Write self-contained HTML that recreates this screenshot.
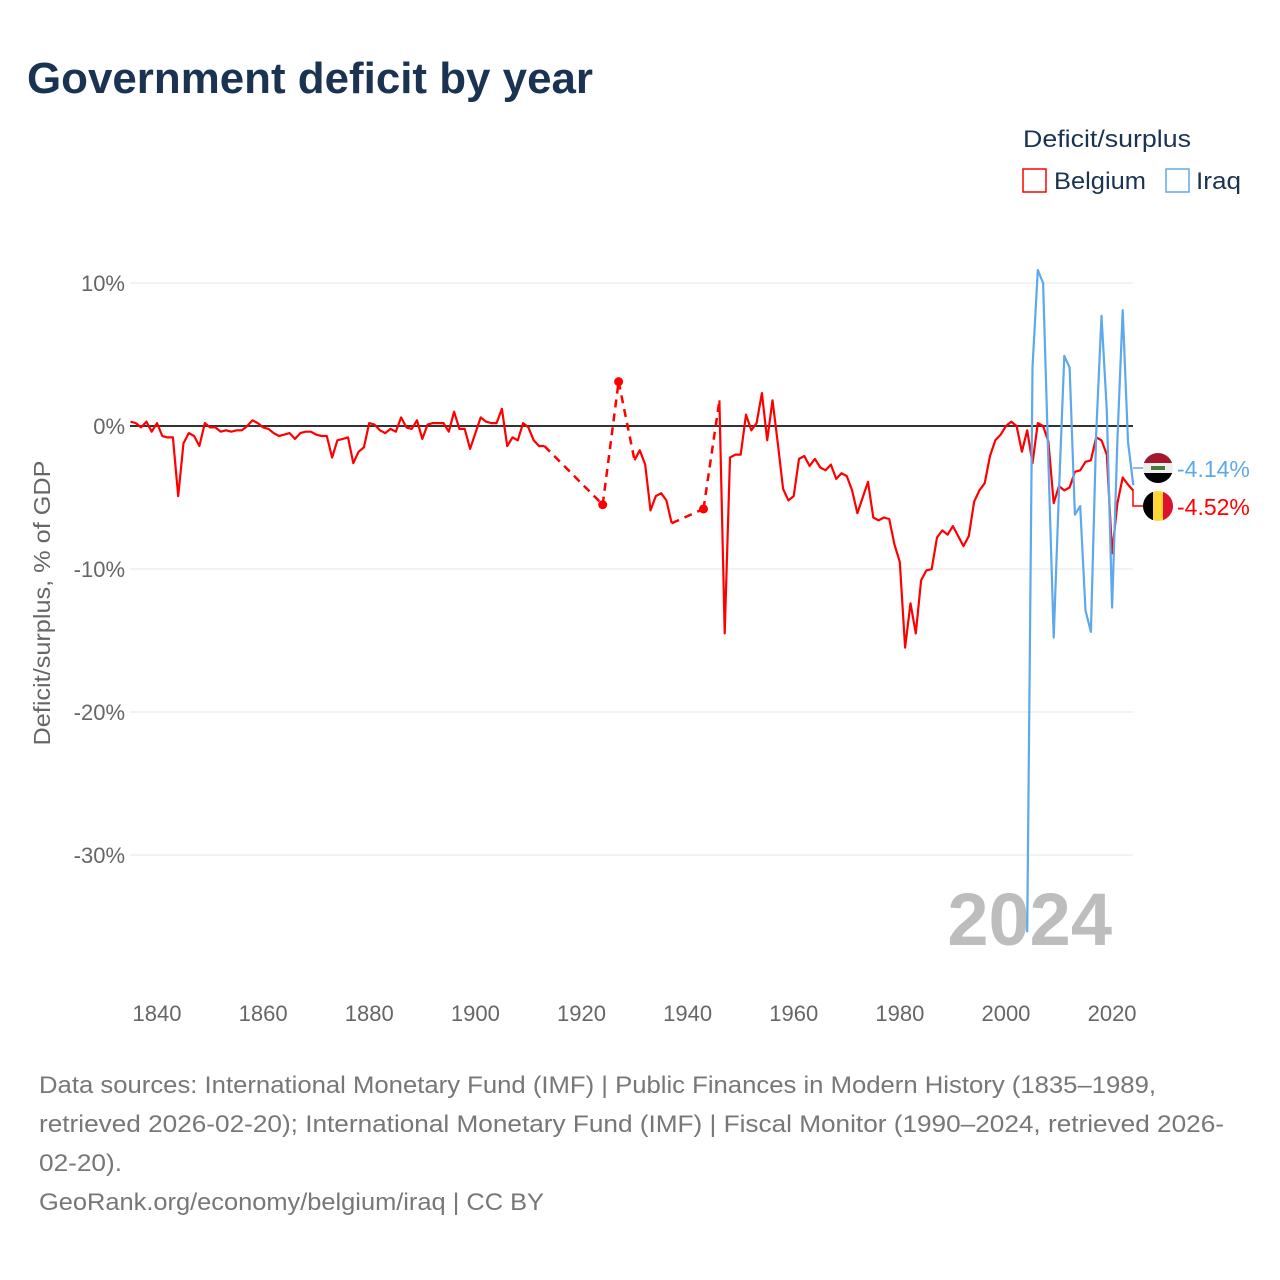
<!DOCTYPE html>
<html><head><meta charset="utf-8"><style>
body{margin:0;background:#fff;}
svg{display:block;font-family:"Liberation Sans",sans-serif;}
</style></head><body>
<svg id="chart" width="1280" height="1280" viewBox="0 0 1280 1280" xmlns="http://www.w3.org/2000/svg">
<text x="27" y="93" font-size="44" font-weight="bold" fill="#1b3352" textLength="566" lengthAdjust="spacingAndGlyphs">Government deficit by year</text>
<g>
<text x="1023" y="147" font-size="24" fill="#1b3352" textLength="168" lengthAdjust="spacingAndGlyphs">Deficit/surplus</text>
<g><rect x="1023" y="169" width="23" height="23" fill="none" stroke="#ff0000" stroke-width="1.5"/><text x="1054" y="189" font-size="24" fill="#1b3352" textLength="92" lengthAdjust="spacingAndGlyphs">Belgium</text></g>
<g><rect x="1166" y="169" width="23" height="23" fill="none" stroke="#5ea8ec" stroke-width="1.5"/><text x="1196" y="189" font-size="24" fill="#1b3352" textLength="45" lengthAdjust="spacingAndGlyphs">Iraq</text></g>
</g>
<text transform="translate(50,603) rotate(-90)" text-anchor="middle" font-size="23" fill="#666" textLength="285" lengthAdjust="spacingAndGlyphs">Deficit/surplus, % of GDP</text>
<g id="grid"></g>
<text x="1112" y="945" text-anchor="end" font-size="74" font-weight="bold" fill="#bdbdbd">2024</text>
<g id="series"></g>
<g id="labels"></g>
<g font-size="24" fill="#777">
<text x="39" y="1093" textLength="1117" lengthAdjust="spacingAndGlyphs">Data sources: International Monetary Fund (IMF) | Public Finances in Modern History (1835–1989,</text>
<text x="39" y="1132" textLength="1185" lengthAdjust="spacingAndGlyphs">retrieved 2026-02-20); International Monetary Fund (IMF) | Fiscal Monitor (1990–2024, retrieved 2026-</text>
<text x="39" y="1171" textLength="83" lengthAdjust="spacingAndGlyphs">02-20).</text>
<text x="39" y="1210" textLength="505" lengthAdjust="spacingAndGlyphs">GeoRank.org/economy/belgium/iraq | CC BY</text>
</g>
</svg>
<script>
const yTicks=[10,0,-10,-20,-30];
const yTickLabels=["10%","0%","-10%","-20%","-30%"];
const xTicks=[1840,1860,1880,1900,1920,1940,1960,1980,2000,2020];
const belgiumYears=[1835,1836,1837,1838,1839,1840,1841,1842,1843,1844,1845,1846,1847,1848,1849,1850,1851,1852,1853,1854,1855,1856,1857,1858,1859,1860,1861,1862,1863,1864,1865,1866,1867,1868,1869,1870,1871,1872,1873,1874,1875,1876,1877,1878,1879,1880,1881,1882,1883,1884,1885,1886,1887,1888,1889,1890,1891,1892,1893,1894,1895,1896,1897,1898,1899,1900,1901,1902,1903,1904,1905,1906,1907,1908,1909,1910,1911,1912,1913,1924,1927,1930,1931,1932,1933,1934,1935,1936,1937,1943,1946,1947,1948,1949,1950,1951,1952,1953,1954,1955,1956,1957,1958,1959,1960,1961,1962,1963,1964,1965,1966,1967,1968,1969,1970,1971,1972,1973,1974,1975,1976,1977,1978,1979,1980,1981,1982,1983,1984,1985,1986,1987,1988,1989,1990,1991,1992,1993,1994,1995,1996,1997,1998,1999,2000,2001,2002,2003,2004,2005,2006,2007,2008,2009,2010,2011,2012,2013,2014,2015,2016,2017,2018,2019,2020,2021,2022,2023,2024];
const belgiumValues=[0.3,0.2,-0.1,0.3,-0.4,0.2,-0.7,-0.8,-0.8,-4.9,-1.2,-0.5,-0.7,-1.4,0.2,-0.1,-0.1,-0.4,-0.3,-0.4,-0.3,-0.3,0,0.4,0.2,-0.1,-0.2,-0.5,-0.7,-0.6,-0.5,-0.9,-0.5,-0.4,-0.4,-0.6,-0.7,-0.7,-2.2,-1.0,-0.9,-0.8,-2.6,-1.8,-1.5,0.2,0.1,-0.3,-0.5,-0.2,-0.4,0.6,-0.1,-0.2,0.4,-0.9,0.1,0.2,0.2,0.2,-0.4,1.0,-0.2,-0.2,-1.6,-0.5,0.6,0.3,0.2,0.2,1.2,-1.4,-0.8,-1.0,0.2,-0.1,-1.0,-1.4,-1.4,-5.5,3.1,-2.4,-1.7,-2.7,-5.9,-4.9,-4.7,-5.2,-6.8,-5.8,1.8,-14.5,-2.2,-2.0,-2.0,0.8,-0.3,0.2,2.3,-1.0,1.8,-1.2,-4.4,-5.2,-4.9,-2.3,-2.1,-2.8,-2.3,-2.9,-3.1,-2.7,-3.7,-3.3,-3.5,-4.5,-6.1,-5.0,-3.9,-6.4,-6.6,-6.4,-6.5,-8.3,-9.5,-15.5,-12.4,-14.5,-10.8,-10.1,-10.0,-7.8,-7.3,-7.6,-7.0,-7.7,-8.4,-7.7,-5.3,-4.5,-4.0,-2.1,-1.0,-0.6,0.0,0.3,0.0,-1.8,-0.3,-2.6,0.2,0.0,-1.1,-5.4,-4.2,-4.5,-4.3,-3.2,-3.1,-2.5,-2.4,-0.8,-1.0,-2.0,-8.9,-5.4,-3.6,-4.1,-4.52];
const iraqYears=[2004,2005,2006,2007,2008,2009,2010,2011,2012,2013,2014,2015,2016,2017,2018,2019,2020,2021,2022,2023,2024];
const iraqValues=[-35.4,4.1,10.9,10.0,-2.5,-14.8,-4.5,4.9,4.1,-6.2,-5.6,-12.9,-14.4,-0.5,7.7,1.1,-12.7,-1.0,8.1,-1.1,-4.14];
const endLabels=["-4.14%","-4.52%"];

const NS="http://www.w3.org/2000/svg";
const X0=130,X1=1133;
function xs(yr){return 157+(yr-1840)*5.306;}
function ys(v){return 426-v*14.3;}
function mk(tag,attrs,parent){const e=document.createElementNS(NS,tag);for(const k in attrs)e.setAttribute(k,attrs[k]);parent.appendChild(e);return e;}
const grid=document.getElementById('grid');
yTicks.forEach((t,i)=>{
  const l=mk('line',{x1:X0,x2:X1,y1:ys(t),y2:ys(t),stroke:t===0?'#333':'#e6e6e6','stroke-width':t===0?2:1},grid);
  
  
  const tx=mk('text',{x:125,y:ys(t)+8,'text-anchor':'end','font-size':22,fill:'#666'},grid);
  tx.textContent=yTickLabels[i];
  
  
});
xTicks.forEach(t=>{
  const tx=mk('text',{x:xs(t),y:1021,'text-anchor':'middle','font-size':22,fill:'#666'},grid);
  tx.textContent=t;
  
  
});
const ser=document.getElementById('series');
function drawSeries(years,vals,color,name){
  const g=mk('g',{},ser);
  
  
  let d='';
  for(let i=0;i<years.length;i++){
    const px=xs(years[i]).toFixed(1),py=ys(vals[i]).toFixed(1);
    if(i===0||years[i]-years[i-1]>1) d+='M'+px+' '+py; else d+='L'+px+' '+py;
    if(i>0&&years[i]-years[i-1]>1){
      const dl=mk('line',{x1:xs(years[i-1]),y1:ys(vals[i-1]),x2:xs(years[i]),y2:ys(vals[i]),stroke:color,'stroke-width':2.5,'stroke-dasharray':'8 6'},g);
      
      
    }
    const isolated=(i===0||years[i]-years[i-1]>1)&&(i===years.length-1||years[i+1]-years[i]>1);
    const gapEnd=(i>0&&years[i]-years[i-1]>1)&&(i===years.length-1||years[i+1]-years[i]>1);
    if(isolated||gapEnd){
      const c=mk('circle',{cx:xs(years[i]),cy:ys(vals[i]),r:4.5,fill:color},g);
      
      
    }
  }
  const p=mk('path',{d:d,fill:'none',stroke:color,'stroke-width':2.2,'stroke-linejoin':'round'},g);
  
  
}
drawSeries(belgiumYears,belgiumValues,'#ff0000','belgium-series');
drawSeries(iraqYears,iraqValues,'#5ea8ec','iraq-series');
const lab=document.getElementById('labels');
const lastB=belgiumValues[belgiumValues.length-1];
const iy=468,by=506;
const c1=mk('path',{d:`M${X1} ${iy} L1146 ${iy}`,fill:'none',stroke:'#5ea8ec','stroke-width':1.5},lab);


const c2=mk('path',{d:`M${X1} ${ys(lastB)} L1133 ${by} L1146 ${by}`,fill:'none',stroke:'#ff0000','stroke-width':1.5},lab);


lab.insertAdjacentHTML('beforeend',`
<defs><clipPath id="ci"><circle cx="1158" cy="${iy}" r="15"/></clipPath><clipPath id="cb"><circle cx="1158" cy="${by}" r="15"/></clipPath></defs>
<g clip-path="url(#ci)"><rect x="1143" y="${iy-15}" width="30" height="10" fill="#a3192b"/><rect x="1143" y="${iy-5}" width="30" height="10" fill="#eee"/><rect x="1143" y="${iy+5}" width="30" height="10" fill="#000"/><rect x="1151" y="${iy-2}" width="14" height="4" fill="#4a7a3a"/></g>
<g clip-path="url(#cb)"><rect x="1143" y="${by-15}" width="10" height="30" fill="#000"/><rect x="1153" y="${by-15}" width="10" height="30" fill="#fdd835"/><rect x="1163" y="${by-15}" width="10" height="30" fill="#e0102e"/></g>`);
const t1=mk('text',{x:1177,y:iy+9,'font-size':23,fill:'#5ea8ec'},lab);
t1.textContent=endLabels[0];


const t2=mk('text',{x:1177,y:by+9,'font-size':23,fill:'#ff0000'},lab);
t2.textContent=endLabels[1];


</script>
</body></html>
